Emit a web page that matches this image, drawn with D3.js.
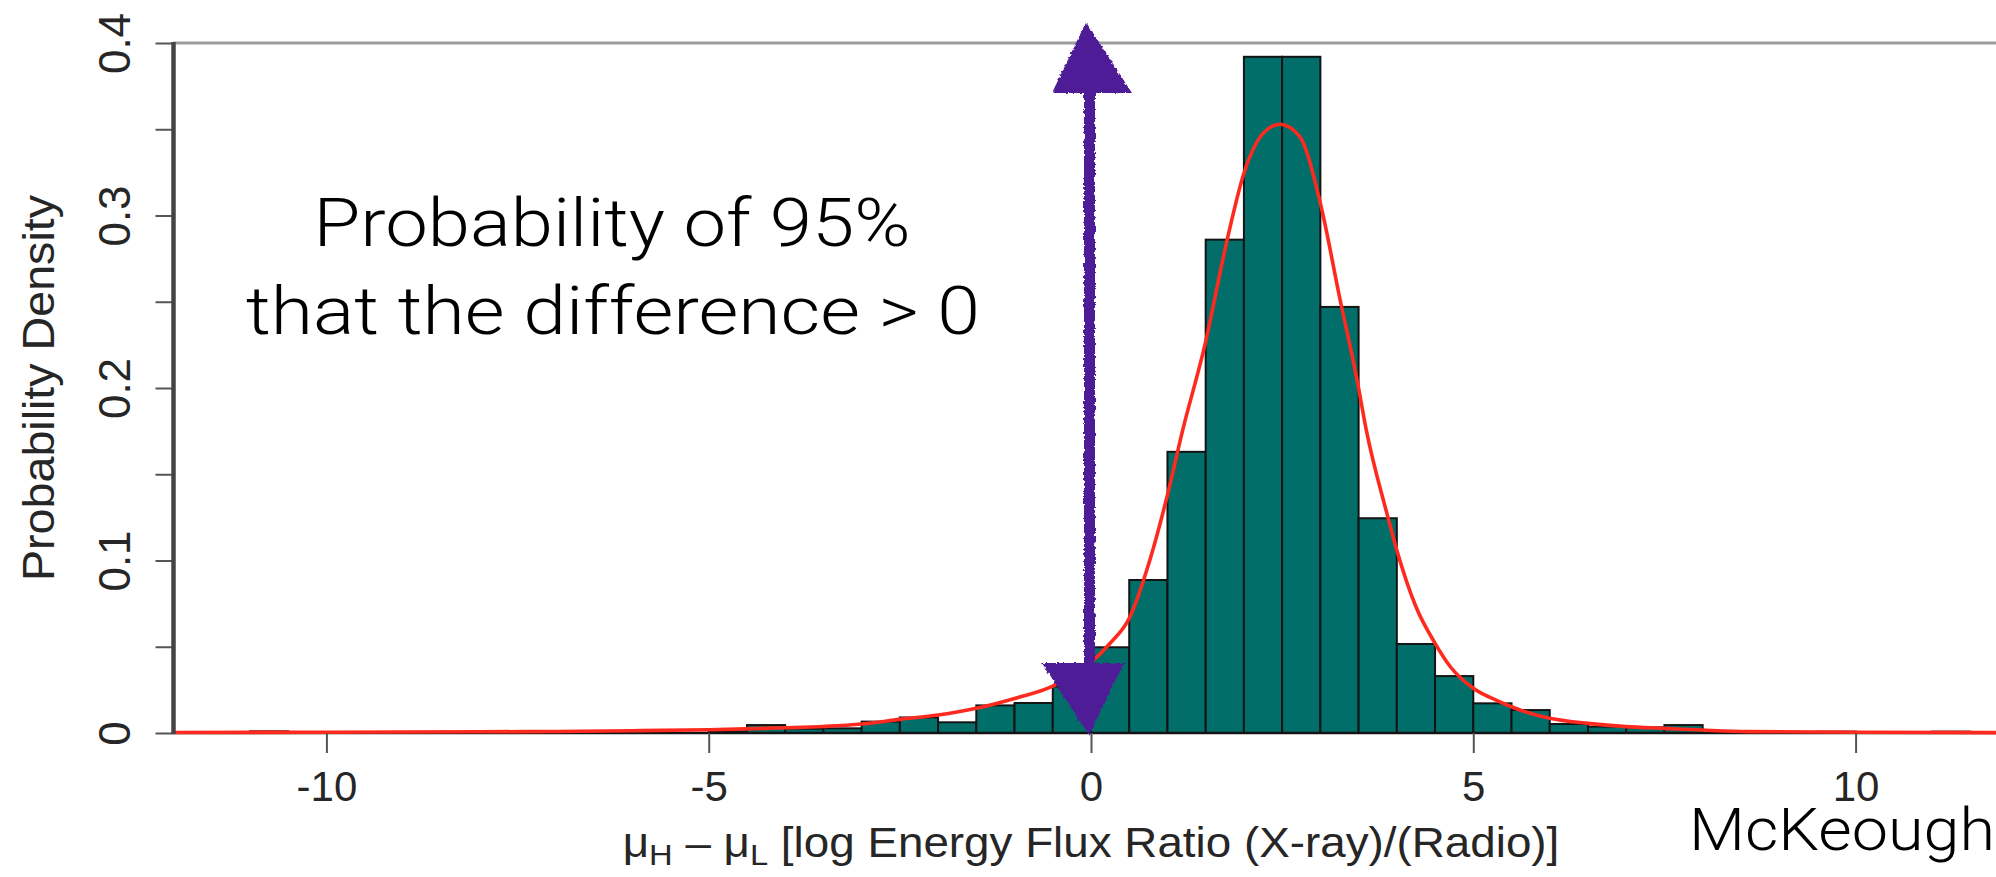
<!DOCTYPE html>
<html>
<head>
<meta charset="utf-8">
<script src="https://cdn.jsdelivr.net/npm/d3@7"></script>
<style>
  body { margin: 0; background: #fff; overflow: hidden; }
  svg { display: block; }
</style>
</head>
<body>
<div id="hist"></div>
<script>
// histogram: left edge of each non-empty bin (bin width 0.5) and its density
var binLo = [-11, -7, -6, -5, -4.5, -4, -3.5, -3, -2.5, -2, -1.5, -1, -0.5, 0, 0.5,
             1, 1.5, 2, 2.5, 3, 3.5, 4, 4.5, 5, 5.5, 6, 6.5, 7, 7.5, 9.5, 11];
var binDensity = [0.001, 0.0007, 0.001, 0.001, 0.0046, 0.0025, 0.0027, 0.0066, 0.009, 0.0062, 0.016, 0.0174, 0.027, 0.0497, 0.0887,
                  0.163, 0.286, 0.392, 0.392, 0.247, 0.1245, 0.0516, 0.033, 0.0172, 0.0133, 0.0052, 0.0037, 0.0033, 0.0046, 0.0008, 0.0008];
var binWidth = 0.5;

// fitted density (red line)
var curveX = [-12, -10, -8, -7, -6, -5, -4, -3.5, -3, -2.5, -2, -1.5, -1, -0.5, -0.2, 0, 0.25, 0.5, 0.77, 1.0, 1.2, 1.49, 1.78, 2.0, 2.25, 2.47, 2.73, 3.0, 3.25, 3.48, 3.6, 3.87, 4.0, 4.25, 4.5, 4.7, 5.0, 5.35, 5.5, 6.0, 6.5, 7.0, 7.5, 8.0, 8.6, 10, 12];
var curveY = [0.0003, 0.0004, 0.0007, 0.0009, 0.0013, 0.0019, 0.003, 0.0038, 0.0052, 0.0079, 0.0104, 0.0143, 0.020, 0.0272, 0.0346, 0.041, 0.052, 0.0665, 0.1003, 0.138, 0.1757, 0.225, 0.2858, 0.3245, 0.3476, 0.3529, 0.3457, 0.307, 0.2529, 0.2046, 0.1757, 0.1273, 0.106, 0.0732, 0.052, 0.0384, 0.0259, 0.0181, 0.0152, 0.0085, 0.0056, 0.0037, 0.0027, 0.0017, 0.0008, 0.0004, 0.0002];

var xDomain = [-12, 12];
var yDomain = [0, 0.4];
var xTicks = [-10, -5, 0, 5, 10];
var yTicks = [0, 0.05, 0.1, 0.15, 0.2, 0.25, 0.3, 0.35, 0.4];
var yTickLabels = ["0", "", "0.1", "", "0.2", "", "0.3", "", "0.4"];
var arrowAt = 0;   // the "difference > 0" marker

var W = 1996, H = 877;
var margin = {top: 43, left: 173.5},
    width = 1835,
    height = 690;

var svg = d3.select("#hist")
  .append("svg")
    .attr("width", W)
    .attr("height", H);

var defs = svg.append("defs");
var rough = defs.append("filter").attr("id", "rough")
    .attr("x", "-20%").attr("y", "-5%").attr("width", "140%").attr("height", "110%");
rough.append("feTurbulence").attr("type", "fractalNoise").attr("baseFrequency", 0.35)
    .attr("numOctaves", 2).attr("seed", 3).attr("result", "n");
rough.append("feDisplacementMap").attr("in", "SourceGraphic").attr("in2", "n")
    .attr("scale", 4).attr("xChannelSelector", "R").attr("yChannelSelector", "G");

var g = svg.append("g")
    .attr("transform", "translate(" + margin.left + "," + margin.top + ")");

var x = d3.scaleLinear().domain(xDomain).range([0, width]);
var y = d3.scaleLinear().domain(yDomain).range([height, 0]);

// top frame line
g.append("line")
    .attr("x1", x(xDomain[0])).attr("x2", x(xDomain[1]))
    .attr("y1", y(yDomain[1])).attr("y2", y(yDomain[1]))
    .attr("stroke", "#9c9c9c").attr("stroke-width", 3);

// bars
var bins = binLo.map(function(d, i) { return {lo: d, hi: d + binWidth, v: binDensity[i]}; });
g.append("g")
  .selectAll("rect")
  .data(bins)
  .enter()
  .append("rect")
    .attr("x", function(d) { return x(d.lo); })
    .attr("width", function(d) { return x(d.hi) - x(d.lo); })
    .attr("y", function(d) { return y(d.v); })
    .attr("height", function(d) { return y(0) - y(d.v); })
    .attr("fill", "#026e6a")
    .attr("stroke", "#141414")
    .attr("stroke-width", 2);

// baseline of the empty bins
g.append("line")
    .attr("x1", x(xDomain[0])).attr("x2", x(xDomain[1]))
    .attr("y1", y(0)).attr("y2", y(0))
    .attr("stroke", "#141414").attr("stroke-width", 2.5);

// red density line
var line = d3.line()
    .x(function(d) { return x(d[0]); })
    .y(function(d) { return y(d[1]); })
    .curve(d3.curveMonotoneX);
g.append("path")
    .datum(d3.zip(curveX, curveY))
    .attr("d", line)
    .attr("fill", "none")
    .attr("stroke", "#ff2a1f")
    .attr("stroke-width", 3.6);

// y axis
var yAxis = g.append("g")
    .call(d3.axisLeft(y).tickValues(yTicks).tickSize(18)
      .tickFormat(function(d, i) { return yTickLabels[i]; }));
yAxis.select(".domain").remove();
yAxis.selectAll("line").attr("stroke", "#555").attr("stroke-width", 2);
yAxis.selectAll("text")
    .attr("transform", "rotate(-90)")
    .attr("x", 0)
    .attr("y", -43.5)
    .attr("dy", 0)
    .attr("text-anchor", "middle")
    .attr("fill", "#262626")
    .style("font-family", "'Liberation Sans', Arial, sans-serif")
    .style("font-size", "44px");

g.append("line")
    .attr("x1", 0).attr("x2", 0)
    .attr("y1", y(yDomain[0]) + 1).attr("y2", y(yDomain[1]) - 1)
    .attr("stroke", "#444").attr("stroke-width", 4.5);

// x axis
var xAxis = g.append("g")
    .attr("transform", "translate(0," + height + ")")
    .call(d3.axisBottom(x).tickValues(xTicks).tickSize(20)
      .tickFormat(function(d) { return String(d); }));
xAxis.select(".domain").remove();
xAxis.selectAll("line").attr("stroke", "#555").attr("stroke-width", 2);
xAxis.selectAll("text")
    .attr("y", 68)
    .attr("dy", 0)
    .attr("fill", "#262626")
    .style("font-family", "'Liberation Sans', Arial, sans-serif")
    .style("font-size", "42px");

// y axis title
svg.append("text")
    .attr("transform", "translate(54," + (margin.top + height / 2) + ") rotate(-90)")
    .attr("text-anchor", "middle")
    .attr("textLength", 386)
    .attr("lengthAdjust", "spacingAndGlyphs")
    .attr("fill", "#262626")
    .style("font-family", "'Liberation Sans', Arial, sans-serif")
    .style("font-size", "44px")
    .text("Probability Density");

// x axis title with subscripts, stretched to the width seen in the plot
var xt = svg.append("text")
    .attr("text-anchor", "middle")
    .attr("fill", "#262626")
    .style("font-family", "'Liberation Sans', Arial, sans-serif")
    .style("font-size", "42px");
xt.append("tspan").text("\u03bc");
xt.append("tspan").attr("dy", 8).style("font-size", "30px").text("H");
xt.append("tspan").attr("dy", -8).text(" \u2013 \u03bc");
xt.append("tspan").attr("dy", 8).style("font-size", "30px").text("L");
xt.append("tspan").attr("dy", -8).text(" [log Energy Flux Ratio (X-ray)/(Radio)]");
var xtLen = xt.node().getComputedTextLength();
xt.attr("transform", "translate(" + (margin.left + x(0)) + ",857) scale(" + (937 / xtLen) + ",1)");

// purple double arrow at zero
var ax = margin.left + x(arrowAt),
    yTop = margin.top + y(yDomain[1]),
    yBot = margin.top + y(0);
var arrow = svg.append("g").attr("fill", "#4f1e98").attr("filter", "url(#rough)");
arrow.append("rect")
    .attr("x", ax - 7).attr("width", 11)
    .attr("y", yTop + 45).attr("height", (yBot - 70) - (yTop + 45) + 4);
arrow.append("path")
    .attr("d", "M" + (ax - 5) + "," + (yTop - 21) + "L" + (ax + 41) + "," + (yTop + 50) +
               "L" + (ax - 39) + "," + (yTop + 50) + "Z");
arrow.append("path")
    .attr("d", "M" + (ax - 49) + "," + (yBot - 70) + "L" + (ax + 33) + "," + (yBot - 70) +
               "L" + (ax - 2) + "," + (yBot + 2) + "Z");

// annotation
var note = svg.append("g")
    .attr("fill", "#000")
    .style("font-family", "Roboto, 'Liberation Sans', sans-serif")
    .style("font-weight", 300)
    .style("font-size", "67px")
    .attr("text-anchor", "middle");
note.append("text").attr("x", 612).attr("y", 246)
    .attr("textLength", 597).attr("lengthAdjust", "spacingAndGlyphs")
    .text("Probability of 95%");
note.append("text").attr("x", 613).attr("y", 334)
    .attr("textLength", 734).attr("lengthAdjust", "spacingAndGlyphs")
    .text("that the difference > 0");

svg.append("text")
    .attr("x", 1689).attr("y", 850)
    .attr("textLength", 306).attr("lengthAdjust", "spacingAndGlyphs")
    .attr("fill", "#000")
    .style("font-family", "Roboto, 'Liberation Sans', sans-serif")
    .style("font-weight", 300)
    .style("font-size", "60px")
    .text("McKeough");
</script>
</body>
</html>
